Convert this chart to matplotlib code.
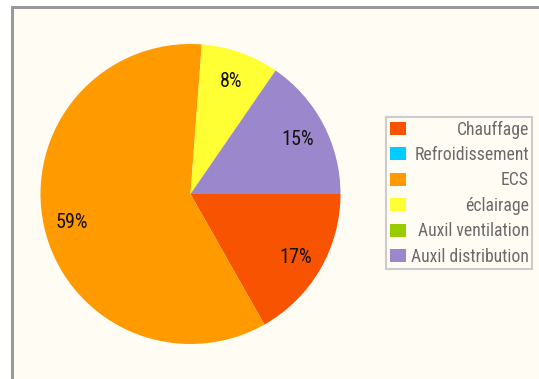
import matplotlib
matplotlib.use("Agg")
import matplotlib.pyplot as plt
from matplotlib.patches import Rectangle
import numpy as np

categories = ["Chauffage", "Refroidissement", "ECS", "éclairage", "Auxil ventilation", "Auxil distribution"]
shares = [16.8, 0, 59.4, 8.4, 0, 15.4]
colors = ["#f75300", "#00ccff", "#ff9a00", "#ffff33", "#99cc00", "#9b87cc"]

FONT = ["Roboto Condensed", "Liberation Sans Narrow", "Lato", "DejaVu Sans"]
W, H = 539, 379
fig = plt.figure(figsize=(W / 100, H / 100), dpi=100, facecolor="white")

# cream panel with a grey border running off the right and bottom edges
fig.patches.append(Rectangle((12 / W, -0.1), 1.2, (H - 7) / H + 0.1, transform=fig.transFigure,
                             facecolor="#fffcf4", edgecolor="#999999", linewidth=2.2, zorder=-5))

cx, cy, r = 190.5, 194, 150
ax = fig.add_axes([(cx - r) / W, (H - cy - r) / H, 2 * r / W, 2 * r / H])
ax.set_facecolor("none")
wedges, _ = ax.pie(shares, colors=colors, startangle=0, counterclock=False, radius=1,
                   wedgeprops=dict(linewidth=0))
ax.set_xlim(-1, 1)
ax.set_ylim(-1, 1)
ax.set_aspect("equal")
ax.axis("off")

# percentage labels at the middle of each non-empty slice
for w, v in zip(wedges, shares):
    if v <= 0:
        continue
    mid = np.deg2rad((w.theta1 + w.theta2) / 2)
    ax.text(0.81 * np.cos(mid), 0.81 * np.sin(mid), f"{v:.0f}%", ha="center",
            va="center_baseline", fontsize=14.5, color="#111111", family=FONT)

fs = 12.7
leg = fig.legend(wedges, categories, loc="upper left", bbox_to_anchor=(386 / W, 1 - 117 / H),
                 bbox_transform=fig.transFigure, frameon=True, fancybox=False,
                 prop=dict(family=FONT, size=fs), labelcolor="#6a6a6a",
                 handlelength=0.92, handleheight=0.74, handletextpad=0.3,
                 labelspacing=0.42, borderpad=0.2, borderaxespad=0)
frame = leg.get_frame()
frame.set_edgecolor("#cccccc")
frame.set_linewidth(1.5)
frame.set_facecolor("#fffcf4")
frame.set_alpha(1)

# right-align the legend labels within their column
fig.canvas.draw()
renderer = fig.canvas.get_renderer()
texts = leg.get_texts()
widths = [t.get_window_extent(renderer).width for t in texts]
widest = max(widths)
for t, wd in zip(texts, widths):
    t.set_position((widest - wd, 0))

fig.savefig("out.png", dpi=100, facecolor="white")
